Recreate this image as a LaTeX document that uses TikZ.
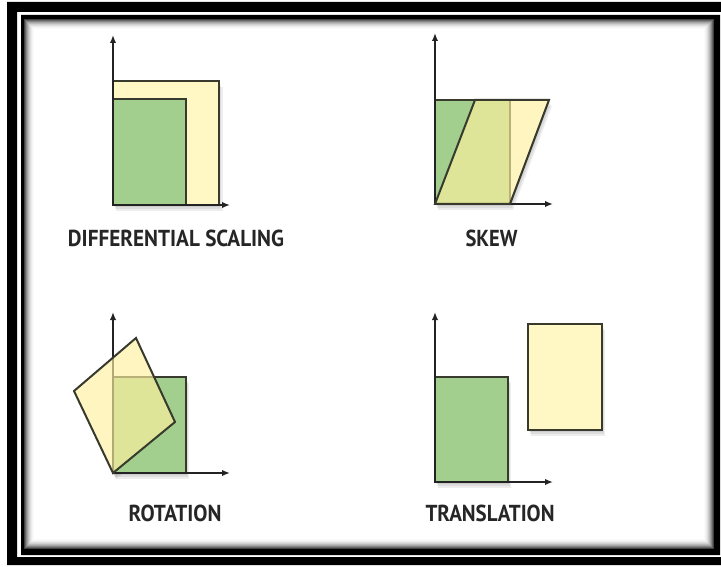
\documentclass[tikz,border=0pt]{standalone}
\usepackage{fontspec}
\usepackage{graphicx}
\setmainfont{PT Sans}
\usetikzlibrary{arrows.meta}
\definecolor{gfill}{RGB}{163,207,142}
\definecolor{yfill}{RGB}{255,241,160}
\definecolor{yplain}{RGB}{255,248,196}
\definecolor{edgec}{RGB}{55,58,45}
\definecolor{axisc}{RGB}{35,35,35}
\definecolor{txtc}{RGB}{38,38,38}
\begin{document}
\begin{tikzpicture}[x=1pt,y=-1pt,
  axisline/.style={draw=axisc, line width=2.6pt, -{Latex[length=8pt,width=6.5pt]}},
  greenbox/.style={fill=gfill, draw=edgec, line width=2pt},
  yellowbox/.style={fill=yplain, draw=edgec, line width=2pt},
  yellowglass/.style={fill=yfill, fill opacity=0.65, draw=edgec, line width=2pt, draw opacity=1},
  softshadow/.style={fill=black, fill opacity=0.07},
  caption/.style={inner sep=0pt, anchor=base, text=txtc, font=\bfseries}
]
\useasboundingbox (0,0) rectangle (721,567);
\fill[white] (0,0) rectangle (721,567);

% frame
\fill[black, even odd rule] (7,2) rectangle (721,565) (17,12) rectangle (722,557);
\fill[black, even odd rule] (21,15) rectangle (720,555) (24,19) rectangle (714,549);
\foreach \i/\c in {0/75,1/60,2/47,3/36,4/27,5/19,6/13,7/8,8/4,9/2}
  \draw[line width=1pt, black!\c] (24.5+\i,19.5+\i) rectangle (713.5-\i,548.5-\i);

% ---------- Panel 1: differential scaling ----------
\foreach \o in {2,4,6} \fill[softshadow] (113+\o*0.5,81+\o) rectangle (219+\o*0.6,205+\o);
\draw[yellowbox] (113,81) rectangle (219,205);
\draw[greenbox] (113,99) rectangle (186,205);
\draw[axisline] (113,206) -- (113,35);
\draw[axisline] (112,205) -- (230,205);

% ---------- Panel 2: skew ----------
\foreach \o in {2,4,6} \fill[softshadow] (435+\o*0.5,100+\o) -- (549+\o*0.5,100+\o) -- (510+\o*0.5,204+\o) -- (435+\o*0.5,204+\o) -- cycle;
\fill[white] (435,204) -- (510,204) -- (549,100) -- (475,100) -- cycle;
\draw[greenbox] (435,100) rectangle (510,204);
\draw[axisline] (435,205) -- (435,33);
\draw[axisline] (434,204) -- (553,204);
\draw[yellowglass] (435,204) -- (510,204) -- (549,100) -- (475,100) -- cycle;

% ---------- Panel 3: rotation ----------
\foreach \o in {2,4,6} \fill[softshadow] (113+\o*0.5,377+\o) rectangle (186+\o*0.5,473+\o);
\foreach \o in {2,4,6} \fill[softshadow] (113+\o*0.5,473+\o) -- (175+\o*0.5,422+\o) -- (136+\o*0.5,338+\o) -- (74+\o*0.5,391+\o) -- cycle;
\fill[white] (113,473) -- (175,422) -- (136,338) -- (74,391) -- cycle;
\draw[greenbox] (113,377) rectangle (186,473);
\draw[axisline] (113,474) -- (113,312);
\draw[axisline] (112,473) -- (230,473);
\draw[yellowglass] (113,473) -- (175,422) -- (136,338) -- (74,391) -- cycle;

% ---------- Panel 4: translation ----------
\foreach \o in {2,4,6} \fill[softshadow] (435+\o*0.5,377+\o) rectangle (508+\o*0.5,482+\o);
\foreach \o in {2,4,6} \fill[softshadow] (528+\o*0.5,324+\o) rectangle (602+\o*0.5,430+\o);
\draw[greenbox] (435,377) rectangle (508,482);
\draw[axisline] (435,483) -- (435,312);
\draw[axisline] (434,482) -- (553,482);
\draw[yellowbox] (528,324) rectangle (602,430);

% ---------- captions ----------
\node[caption] (capscale) at (176,247) {\resizebox{216pt}{16.5pt}{DIFFERENTIAL SCALING}};
\node[caption] (capskew) at (491.5,247) {\resizebox{52pt}{16.5pt}{SKEW}};
\node[caption] (caprot) at (175,521) {\resizebox{93pt}{16.5pt}{ROTATION}};
\node[caption] (captrans) at (490,521) {\resizebox{129pt}{16.5pt}{TRANSLATION}};
\end{tikzpicture}
\end{document}
